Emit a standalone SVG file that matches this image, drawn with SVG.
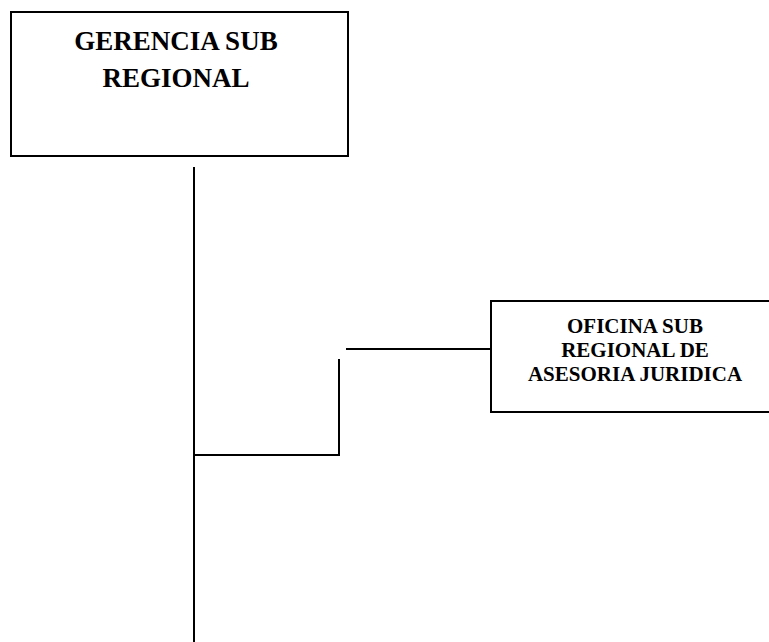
<svg xmlns="http://www.w3.org/2000/svg" width="769" height="642" viewBox="0 0 769 642">
  <style>
    .box { fill: #ffffff; stroke: #000000; stroke-width: 2; }
    .wire { fill: none; stroke: #000000; stroke-width: 2; }
    .lbl { font-family: "Liberation Serif", "Times New Roman", serif; font-weight: bold; fill: #000000; text-anchor: middle; }
    .big { font-size: 27px; }
    .small { font-size: 21px; }
  </style>
  <rect width="769" height="642" fill="#ffffff"/>

  <!-- connectors -->
  <g id="connectors">
    <line class="wire" x1="194" y1="167" x2="194" y2="642"/>
    <polyline class="wire" points="194,455 339,455 339,359"/>
    <line class="wire" x1="346" y1="349" x2="491" y2="349"/>
  </g>

  <!-- top management box -->
  <g id="gerencia">
    <rect class="box" x="11" y="12" width="337" height="144"/>
    <text class="lbl big" x="176" y="50">GERENCIA SUB</text>
    <text class="lbl big" x="176" y="87">REGIONAL</text>
  </g>

  <!-- legal advisory office -->
  <g id="asesoria">
    <rect class="box" x="491" y="301" width="287" height="111"/>
    <text class="lbl small" x="635" y="333">OFICINA SUB</text>
    <text class="lbl small" x="635" y="357">REGIONAL DE</text>
    <text class="lbl small" x="635" y="381">ASESORIA JURIDICA</text>
  </g>
</svg>
